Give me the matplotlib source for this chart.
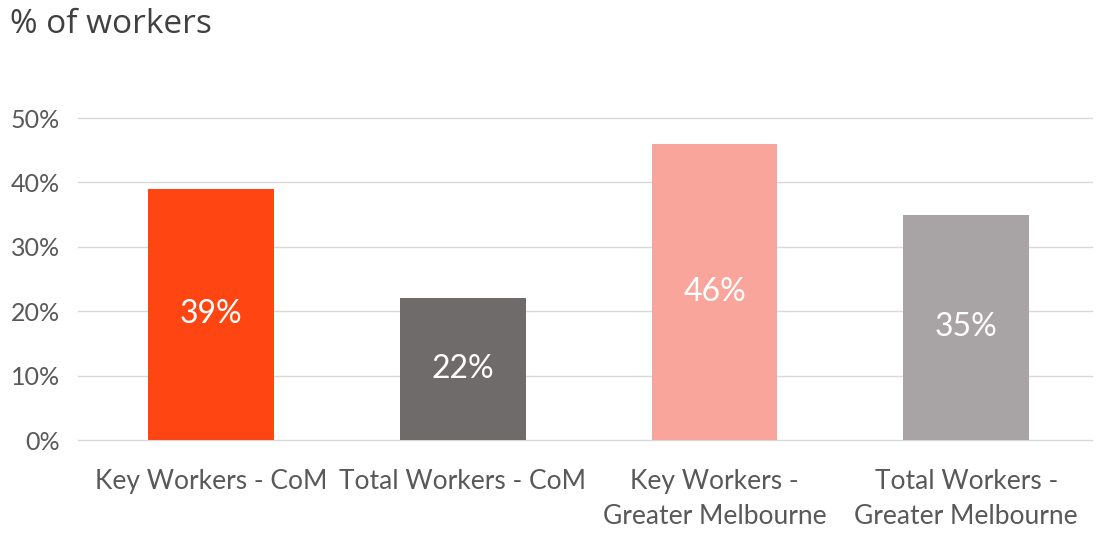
import matplotlib
matplotlib.use("Agg")
import matplotlib.pyplot as plt
from matplotlib.ticker import FuncFormatter

categories = ["Key Workers - CoM", "Total Workers - CoM",
              "Key Workers -\nGreater Melbourne", "Total Workers -\nGreater Melbourne"]
values = [39, 22, 46, 35]
bar_colors = ["#FF4612", "#6F6B6A", "#F9A59B", "#A8A4A5"]
y_ticks = [0, 10, 20, 30, 40, 50]

fig = plt.figure(figsize=(10.96, 5.35), dpi=100)
ax = fig.add_axes([78 / 1096, 1 - 440 / 535, (1092 - 78) / 1096, (440 - 118) / 535])

x = list(range(len(categories)))
bars = ax.bar(x, values, width=0.5, color=bar_colors, zorder=3)

for rect, v in zip(bars, values):
    ax.text(rect.get_x() + rect.get_width() / 2, v / 2, f"{v}%",
            ha="center", va="center", color="white", fontsize=23,
            family="Lato", zorder=4)

ax.set_xlim(-0.53, 3.5)
ax.set_ylim(0, 50)
ax.set_yticks(y_ticks)
ax.yaxis.set_major_formatter(FuncFormatter(lambda v, p: f"{v:.0f}%"))
ax.set_xticks(x)
ax.set_xticklabels(categories, linespacing=1.5)

ax.grid(axis="y", color="#D9D9D9", linewidth=1.0, zorder=0)
for s in ax.spines.values():
    s.set_visible(False)
ax.tick_params(axis="both", length=0, colors="#595959", labelsize=18)
ax.tick_params(axis="y", pad=13)
ax.tick_params(axis="x", pad=21, labelsize=19)
for lab in ax.get_xticklabels() + ax.get_yticklabels():
    lab.set_family("Lato")
    lab.set_color("#595959")
for gl in ax.get_ygridlines():
    gl.set_clip_on(False)

fig.text(10 / 1096, 1 - 33 / 535, "% of workers", ha="left", va="baseline",
         fontsize=24, color="#404040", family="Open Sans")

fig.savefig("out.png", dpi=100, facecolor="white")
